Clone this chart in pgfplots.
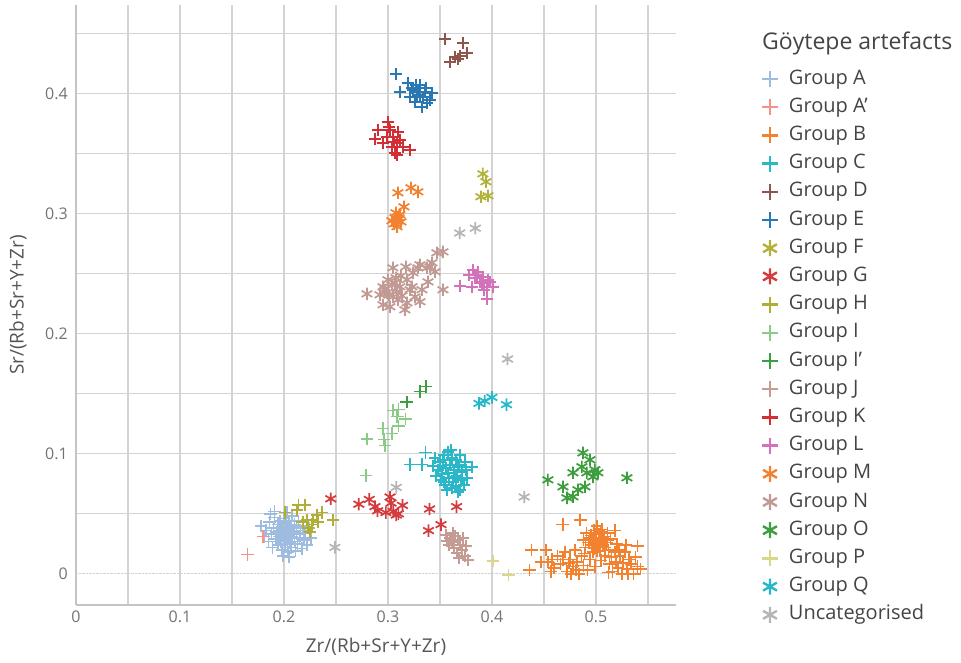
\documentclass[border=0pt]{standalone}
\usepackage{pgfplots}
\pgfplotsset{compat=1.18}
\usepackage{fontspec}
\setmainfont{Open Sans}
\definecolor{cA}{HTML}{9EBCDF}
\definecolor{cAp}{HTML}{F4908E}
\definecolor{cB}{HTML}{F28230}
\definecolor{cC}{HTML}{2AB8C8}
\definecolor{cD}{HTML}{8C564B}
\definecolor{cE}{HTML}{2A78B3}
\definecolor{cF}{HTML}{B2B23A}
\definecolor{cG}{HTML}{D33B3D}
\definecolor{cH}{HTML}{B0AE36}
\definecolor{cI}{HTML}{8ACB88}
\definecolor{cIp}{HTML}{3D9E3D}
\definecolor{cJ}{HTML}{C49C94}
\definecolor{cK}{HTML}{D12F33}
\definecolor{cL}{HTML}{D372BA}
\definecolor{cM}{HTML}{F28230}
\definecolor{cN}{HTML}{C19A93}
\definecolor{cO}{HTML}{3C9E3C}
\definecolor{cP}{HTML}{D8D78E}
\definecolor{cQ}{HTML}{26B8C8}
\definecolor{cU}{HTML}{B5B5B5}
\definecolor{gridgrey}{HTML}{D3D3D3}
\definecolor{axisgrey}{HTML}{C4C4C4}
\definecolor{ticktext}{HTML}{737373}
\definecolor{labtext}{HTML}{555555}
\definecolor{legtext}{HTML}{444444}
\pgfplotsset{
  mplus/.style={only marks, mark=+, mark size=6.2pt, line width=1.7pt, color=#1},
  mast/.style={only marks, mark=asterisk, mark size=6.2pt, line width=1.7pt, color=#1},
}
\begin{document}
\begin{tikzpicture}
\begin{axis}[
  scale only axis, width=600pt, height=600pt,
  xmin=0, xmax=0.577, ymin=-0.026, ymax=0.474,
  axis x line*=bottom, axis y line*=left,
  axis line style={draw=axisgrey, line width=1.8pt, -},
  xtick={0,0.1,0.2,0.3,0.4,0.5},
  minor xtick={0.05,0.15,0.25,0.35,0.45,0.55},
  ytick={0.1,0.2,0.3,0.4},
  minor ytick={0.05,0.15,0.25,0.35,0.45},
  extra y ticks={0},
  extra y tick style={grid style={densely dotted, draw=gridgrey, line width=1pt}},
  grid=both,
  major grid style={draw=gridgrey, line width=1.2pt},
  minor grid style={draw=gridgrey, line width=1.2pt},
  major tick length=0pt, minor tick length=0pt,
  /pgf/number format/assume math mode=true,
  tick label style={font=\fontsize{16}{19}\selectfont, text=ticktext},
  xticklabel style={anchor=north, inner sep=0pt, yshift=-6pt},
  yticklabel style={anchor=east, inner sep=0pt, xshift=-8pt},
  xlabel={Zr/(Rb+Sr+Y+Zr)},
  ylabel={Sr/(Rb+Sr+Y+Zr)},
  label style={font=\fontsize{19}{23}\selectfont, text=labtext},
  x label style={at={(axis description cs:0.5,0)}, anchor=center, yshift=-42pt},
  y label style={at={(axis description cs:0,0.5)}, anchor=center, yshift=58pt},
  legend cell align=left,
  legend style={at={(axis description cs:1.1433,0.8933)}, anchor=north west,
    draw=none, fill=none, inner sep=0pt, outer sep=0pt,
    row sep=8.2pt, column sep=11pt,
    nodes={inner sep=0pt, text height=15pt, text depth=5pt,
      font=\fontsize{20}{24}\selectfont, text=legtext}},
  legend image code/.code={\draw[mark repeat=2,mark phase=2,#1,mark size=8pt,line width=2.4pt] plot coordinates {(0pt,0pt)(8pt,0pt)(16pt,0pt)};},
]
% Group A
\addplot[mplus=cA] coordinates {
(0.178,0.040)(0.181,0.031)(0.183,0.036)(0.185,0.027)(0.186,0.043)(0.188,0.033)
(0.189,0.022)(0.190,0.038)(0.191,0.047)(0.192,0.029)(0.193,0.035)(0.194,0.041)
(0.194,0.024)(0.195,0.031)(0.196,0.044)(0.196,0.036)(0.197,0.027)(0.198,0.039)
(0.198,0.020)(0.199,0.033)(0.200,0.046)(0.200,0.030)(0.201,0.037)(0.201,0.025)
(0.202,0.042)(0.202,0.034)(0.203,0.028)(0.203,0.051)(0.204,0.038)(0.204,0.018)
(0.205,0.032)(0.205,0.044)(0.206,0.026)(0.206,0.036)(0.207,0.040)(0.207,0.022)
(0.208,0.031)(0.208,0.048)(0.209,0.035)(0.210,0.027)(0.210,0.041)(0.211,0.019)
(0.212,0.033)(0.212,0.038)(0.213,0.025)(0.214,0.044)(0.215,0.030)(0.216,0.036)
(0.217,0.021)(0.218,0.040)(0.219,0.028)(0.220,0.034)(0.222,0.024)(0.224,0.038)
(0.226,0.030)(0.199,0.015)(0.205,0.014)(0.191,0.052)(0.187,0.050)
};
\addlegendentry{Group A}
% Group A'
\addplot[mplus=cAp] coordinates {(0.165,0.016)(0.180,0.031)};
\addlegendentry{Group A’}
% Group B
\addplot[mplus=cB] coordinates {
(0.468,0.041)(0.485,0.045)(0.438,0.020)(0.436,0.003)(0.452,0.020)(0.540,0.023)
(0.518,0.036)(0.454,0.010)(0.460,0.005)(0.463,0.015)(0.466,0.008)(0.470,0.018)
(0.472,0.002)(0.475,0.012)(0.478,0.006)(0.480,0.020)(0.482,0.010)(0.484,0.000)
(0.486,0.015)(0.488,0.007)(0.490,0.022)(0.492,0.003)(0.494,0.012)(0.495,0.032)
(0.497,0.018)(0.498,0.036)(0.499,0.027)(0.500,0.022)(0.500,0.030)(0.501,0.040)
(0.502,0.025)(0.503,0.033)(0.504,0.019)(0.505,0.028)(0.506,0.037)(0.507,0.023)
(0.508,0.031)(0.509,0.015)(0.510,0.026)(0.511,0.034)(0.512,0.020)(0.513,0.008)
(0.514,0.029)(0.515,0.014)(0.516,0.002)(0.518,0.018)(0.519,0.010)(0.520,0.025)
(0.521,0.005)(0.523,0.015)(0.525,0.000)(0.526,0.009)(0.528,0.018)(0.530,0.004)
(0.532,0.012)(0.534,0.008)(0.536,0.000)(0.538,0.014)(0.540,0.006)(0.543,0.004)
(0.488,0.028)(0.491,0.034)(0.493,0.026)(0.496,0.024)(0.497,0.029)(0.499,0.033)
(0.501,0.019)(0.503,0.026)(0.505,0.035)(0.507,0.030)(0.504,0.024)(0.498,0.021)
(0.494,0.030)(0.509,0.022)(0.511,0.028)(0.476,0.000)(0.458,0.012)(0.468,0.012)
(0.474,0.009)(0.447,0.010)(0.457,0.002)(0.499,0.006)(0.505,0.011)(0.512,0.001)
(0.522,0.020)(0.529,0.024)(0.531,0.000)(0.489,0.017)(0.481,0.003)
};
\addlegendentry{Group B}
% Group C
\addplot[mplus=cC] coordinates {
(0.321,0.091)(0.333,0.091)(0.336,0.101)(0.381,0.089)(0.376,0.080)
(0.3452,0.0967)(0.3500,0.0933)(0.3538,0.0992)(0.3577,0.1017)(0.3615,0.0967)
(0.3654,0.0950)(0.3692,0.0992)(0.3481,0.0867)(0.3519,0.0833)(0.3558,0.0883)
(0.3596,0.0908)(0.3635,0.0867)(0.3673,0.0892)(0.3712,0.0850)(0.3510,0.0783)
(0.3548,0.0742)(0.3587,0.0800)(0.3625,0.0767)(0.3663,0.0817)(0.3702,0.0783)
(0.3567,0.0700)(0.3615,0.0717)(0.3654,0.0733)(0.3692,0.0700)(0.3731,0.0742)
(0.3500,0.0900)(0.3462,0.0817)(0.3740,0.0933)(0.3577,0.0842)(0.3644,0.0808)
(0.3529,0.0950)(0.3606,0.1033)(0.3683,0.0908)(0.3538,0.0767)(0.3712,0.0800)
(0.3673,0.0683)(0.3433,0.0900)(0.3750,0.0867)
};
\addlegendentry{Group C}
% Group D
\addplot[mplus=cD] coordinates {
(0.3548,0.4458)(0.3721,0.4425)(0.3760,0.4342)(0.3692,0.4317)(0.3644,0.4308)
(0.3596,0.4267)(0.3673,0.4292)
};
\addlegendentry{Group D}
% Group E
\addplot[mplus=cE] coordinates {
(0.3077,0.4167)(0.3115,0.4017)(0.3192,0.4092)(0.3240,0.4033)(0.3279,0.3975)
(0.3308,0.4075)(0.3356,0.4017)(0.3423,0.4008)(0.3375,0.3925)(0.3327,0.3892)
(0.3260,0.3933)(0.3212,0.3975)(0.3288,0.4017)(0.3404,0.3950)(0.3337,0.3975)
(0.3231,0.4050)(0.3308,0.3992)(0.3365,0.4050)(0.3269,0.4075)
};
\addlegendentry{Group E}
% Group F
\addplot[mast=cF] coordinates {
(0.3913,0.3333)(0.3942,0.3267)(0.3894,0.3142)(0.3962,0.3150)
};
\addlegendentry{Group F}
% Group G
\addplot[mast=cG] coordinates {
(0.245,0.0625)(0.272,0.058)(0.282,0.062)(0.2875,0.056)(0.290,0.0525)
(0.302,0.064)(0.303,0.059)(0.305,0.052)(0.310,0.050)(0.314,0.057)
(0.340,0.054)(0.366,0.056)(0.339,0.036)(0.351,0.041)(0.298,0.051)(0.308,0.049)
};
\addlegendentry{Group G}
% Group H
\addplot[mplus=cH] coordinates {
(0.201,0.051)(0.2125,0.053)(0.220,0.0575)(0.222,0.045)(0.232,0.049)
(0.2365,0.051)(0.247,0.045)(0.227,0.041)(0.225,0.035)(0.218,0.043)
(0.233,0.043)(0.228,0.045)(0.214,0.0575)(0.223,0.038)
};
\addlegendentry{Group H}
% Group I
\addplot[mplus=cI] coordinates {
(0.280,0.1125)(0.279,0.082)(0.295,0.121)(0.296,0.112)(0.304,0.117)
(0.305,0.136)(0.310,0.137)(0.309,0.131)(0.310,0.123)(0.317,0.129)(0.297,0.107)
};
\addlegendentry{Group I}
% Group I'
\addplot[mplus=cIp] coordinates {(0.318,0.143)(0.331,0.152)(0.3365,0.156)};
\addlegendentry{Group I’}
% Group J
\addplot[mplus=cJ] coordinates {
(0.3558,0.0325)(0.3596,0.0300)(0.3615,0.0267)(0.3644,0.0317)(0.3673,0.0283)
(0.3692,0.0242)(0.3635,0.0217)(0.3712,0.0200)(0.3663,0.0175)(0.3740,0.0150)
(0.3750,0.0233)(0.3721,0.0300)(0.3587,0.0242)(0.3769,0.0117)(0.3683,0.0133)
(0.3625,0.0342)(0.3567,0.0275)
};
\addlegendentry{Group J}
% Group K
\addplot[mplus=cK] coordinates {
(0.3000,0.3767)(0.2904,0.3700)(0.2875,0.3625)(0.2952,0.3592)(0.3019,0.3700)
(0.3048,0.3642)(0.3087,0.3592)(0.3038,0.3558)(0.3115,0.3617)(0.3067,0.3508)
(0.3144,0.3558)(0.3212,0.3533)(0.2990,0.3642)(0.3096,0.3683)(0.3087,0.3492)
(0.3010,0.3725)(0.3058,0.3600)
};
\addlegendentry{Group K}
% Group L
\addplot[mplus=cL] coordinates {
(0.3692,0.2400)(0.3808,0.2392)(0.3817,0.2533)(0.3865,0.2517)(0.3913,0.2475)
(0.3885,0.2433)(0.3962,0.2450)(0.3952,0.2392)(0.4010,0.2392)(0.3837,0.2467)
(0.3779,0.2492)(0.3952,0.2292)(0.3904,0.2425)(0.3856,0.2492)(0.3981,0.2433)
(0.3923,0.2367)
};
\addlegendentry{Group L}
% Group M
\addplot[mast=cM] coordinates {
(0.3096,0.3175)(0.3221,0.3217)(0.3288,0.3183)(0.3154,0.3058)(0.3067,0.2967)
(0.3096,0.2950)(0.3087,0.2892)(0.3038,0.2942)(0.3115,0.2992)(0.3058,0.2917)
(0.3106,0.2967)(0.3077,0.3008)(0.3125,0.2933)
};
\addlegendentry{Group M}
% Group N
\addplot[mast=cN] coordinates {
(0.2798,0.2333)(0.2952,0.2392)(0.2990,0.2342)(0.3048,0.2550)(0.3067,0.2425)
(0.3087,0.2350)(0.3096,0.2283)(0.2952,0.2242)(0.3019,0.2225)(0.3163,0.2200)
(0.3173,0.2558)(0.3183,0.2450)(0.3231,0.2392)(0.3260,0.2308)(0.3308,0.2267)
(0.3240,0.2508)(0.3308,0.2575)(0.3375,0.2550)(0.3385,0.2433)(0.3423,0.2592)
(0.3452,0.2517)(0.3471,0.2675)(0.3529,0.2683)(0.3529,0.2367)(0.3327,0.2367)
(0.3115,0.2392)(0.3048,0.2308)(0.2923,0.2325)(0.3288,0.2550)(0.3404,0.2558)
(0.3183,0.2258)(0.3000,0.2450)(0.3038,0.2408)(0.3125,0.2483)(0.2971,0.2367)
(0.3010,0.2325)(0.3077,0.2467)(0.3135,0.2317)(0.3212,0.2367)
};
\addlegendentry{Group N}
% Group O
\addplot[mast=cO] coordinates {
(0.4875,0.1008)(0.4942,0.0950)(0.4865,0.0892)(0.4779,0.0842)(0.4913,0.0842)
(0.4990,0.0867)(0.5019,0.0842)(0.4971,0.0808)(0.4894,0.0725)(0.4827,0.0700)
(0.4779,0.0642)(0.4721,0.0633)(0.4683,0.0725)(0.4538,0.0783)(0.5298,0.0800)
};
\addlegendentry{Group O}
% Group P
\addplot[mplus=cP] coordinates {(0.401,0.0108)(0.416,-0.001)};
\addlegendentry{Group P}
% Group Q
\addplot[mast=cQ] coordinates {(0.3875,0.142)(0.393,0.144)(0.400,0.147)(0.414,0.141)};
\addlegendentry{Group Q}
% Uncategorised
\addplot[mast=cU] coordinates {
(0.249,0.022)(0.308,0.072)(0.369,0.284)(0.384,0.288)(0.415,0.179)(0.431,0.064)
};
\addlegendentry{Uncategorised}
\end{axis}
\node[anchor=base west, inner sep=0pt, font=\fontsize{23}{28}\selectfont, text=legtext] at (686pt,555pt) {Göytepe artefacts};
\pgfresetboundingbox
\path[use as bounding box] (-76pt,-58pt) rectangle (885pt,605pt);
\end{tikzpicture}
\end{document}
